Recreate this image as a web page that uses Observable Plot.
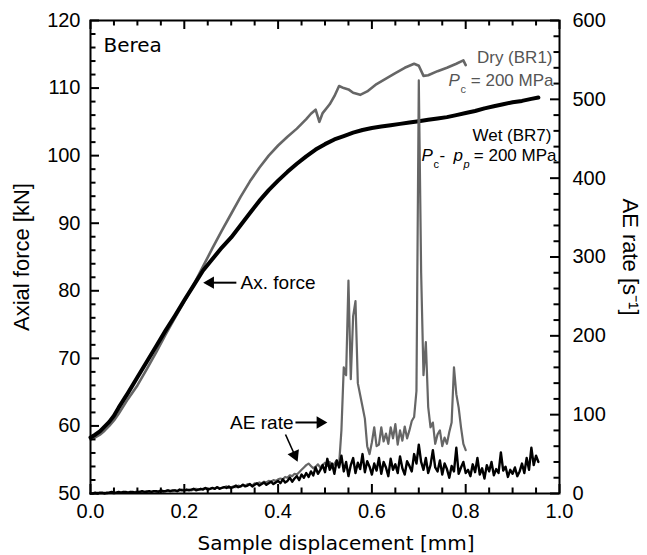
<!DOCTYPE html>
<html><head><meta charset="utf-8">
<script src="https://cdn.jsdelivr.net/npm/d3@7"></script>
<script src="https://cdn.jsdelivr.net/npm/@observablehq/plot@0.6"></script>
<style>body{margin:0;background:#fff}</style>
</head><body><div id="chart"></div>
<script>
// ---- data ----
const dryDisp  = [0,0.01,0.02,0.03,0.04,0.05,0.06,0.08,0.10,0.12,0.14,0.16,0.18,0.20,0.22,0.24,0.26,0.28,0.30,0.32,0.34,0.36,0.38,0.40,0.42,0.44,0.46,0.47,0.48,0.488,0.495,0.51,0.52,0.53,0.54,0.55,0.56,0.575,0.59,0.61,0.63,0.65,0.67,0.69,0.70,0.71,0.72,0.74,0.76,0.78,0.795,0.80];
const dryForce = [58.0,58.3,58.7,59.3,60.0,60.8,61.8,64.0,66.0,68.4,70.9,73.5,76.0,78.4,80.9,83.6,86.3,88.9,91.4,93.9,96.2,98.2,100.0,101.5,102.8,104.0,105.4,106.2,106.8,105.0,106.3,107.6,108.8,110.3,110.0,109.8,109.3,109.0,109.5,110.6,111.4,112.2,113.0,113.6,113.3,111.8,111.9,112.5,113.0,113.6,114.1,113.4];
const wetDisp  = [0,0.01,0.02,0.03,0.04,0.05,0.06,0.08,0.10,0.12,0.14,0.16,0.18,0.20,0.22,0.24,0.26,0.28,0.30,0.32,0.34,0.36,0.38,0.40,0.42,0.44,0.46,0.48,0.50,0.52,0.54,0.56,0.58,0.60,0.62,0.64,0.66,0.68,0.70,0.72,0.74,0.76,0.78,0.80,0.82,0.84,0.86,0.88,0.90,0.92,0.94,0.955];
const wetForce = [58.3,58.7,59.2,59.9,60.6,61.5,62.7,64.9,67.2,69.5,71.8,74.1,76.3,78.6,80.8,83.0,84.7,86.4,87.9,89.7,91.5,93.3,94.9,96.3,97.6,98.8,99.9,100.9,101.7,102.4,102.9,103.4,103.8,104.1,104.3,104.5,104.7,104.9,105.1,105.3,105.5,105.7,106.0,106.3,106.6,107.0,107.3,107.6,107.9,108.1,108.4,108.6];

// AE rate [1/s], sampled every 0.005 mm of displacement
const aeStep = 0.005;
const aeDry = [
 0,0,0,1,0,0,1,0,1,1,0,1,1,1,2,1,1,2,1,2,2,
 2,1,2,3,2,2,3,2,3,3,2,3,4,3,3,4,3,4,5,4,
 4,5,4,5,6,5,5,6,7,5,6,7,6,8,7,7,8,9,7,8,
 9,8,10,9,11,10,12,11,10,13,12,14,13,15,14,16,15,17,16,18,
 19,18,21,20,23,22,25,24,27,30,33,36,38,35,32,34,37,33,36,39,
 35,40,32,38,42,36,80,160,150,270,145,225,244,140,125,110,95,60,50,65,
 84,60,62,84,66,76,63,84,70,88,62,80,67,85,70,80,92,97,130,524,
 280,150,192,110,84,90,63,75,80,60,71,63,78,90,160,126,109,84,63,55];
const aeWet = [
 0,0,1,0,1,1,0,1,1,2,1,1,2,1,2,2,1,2,2,1,2,
 2,3,2,2,3,2,3,3,2,4,3,3,4,3,4,4,3,5,4,4,
 5,4,5,6,4,5,6,5,7,5,6,7,6,8,6,7,8,7,9,7,
 8,10,8,9,11,9,10,12,9,11,13,10,12,14,11,13,15,12,14,16,
 13,18,14,16,20,15,19,22,17,24,20,26,21,28,23,33,25,30,36,27,
 44,30,38,25,42,33,48,28,40,22,36,45,26,39,31,50,27,41,34,24,
 38,29,45,25,40,33,22,44,30,37,26,47,32,24,41,35,28,50,38,62,
 40,30,45,26,36,55,33,28,42,24,38,31,20,35,28,58,25,33,40,26,
 30,22,37,27,45,24,32,19,36,28,40,23,31,26,52,29,34,21,30,25,
 33,22,28,38,26,45,30,58,36,48,40];

const xTicks = [0, 0.2, 0.4, 0.6, 0.8, 1.0];
const xMinor = [0.05,0.1,0.15,0.25,0.3,0.35,0.45,0.5,0.55,0.65,0.7,0.75,0.85,0.9,0.95];
const forceTicks = [50, 60, 70, 80, 90, 100, 110, 120];
const forceMinor = [52,54,56,58,62,64,66,68,72,74,76,78,82,84,86,88,92,94,96,98,102,104,106,108,112,114,116,118];
const aeTicks = [0, 100, 200, 300, 400, 500, 600];
const aeMinor = [20,40,60,80,120,140,160,180,220,240,260,280,320,340,360,380,420,440,460,480,520,540,560,580];

// ---- build tables ----
const FMIN = 50, FMAX = 120, AEMAX = 600;
const aeToF = a => FMIN + a * (FMAX - FMIN) / AEMAX;
const dry = dryDisp.map((d, i) => ({d, f: dryForce[i]}));
const wet = wetDisp.map((d, i) => ({d, f: wetForce[i]}));
const aeD = aeDry.map((v, i) => ({d: i * aeStep, f: aeToF(v)}));
const aeW = aeWet.map((v, i) => ({d: i * aeStep, f: aeToF(v)}));

const W = 647, H = 555, mL = 90, mR = 88, mT = 20, mB = 62;
const fw = W - mL - mR, fh = H - mT - mB;
const GRAY = "#666", TGRAY = "#555";
const sans = "Liberation Sans, Arial, sans-serif";
const tahoma = "DejaVu Sans, Verdana, sans-serif";
const MAJ = 9, MIN = 5.5;

const t = (txt, x, y, o) => Plot.text([{txt, x, y}], {x: "x", y: "y", text: "txt", fontFamily: sans, ...o});

const chart = Plot.plot({
  width: W, height: H,
  marginLeft: mL, marginRight: mR, marginTop: mT, marginBottom: mB,
  x: {domain: [0, 1]},
  y: {domain: [FMIN, FMAX]},
  style: {fontFamily: sans, fontSize: "20px", background: "#fff", color: "#000"},
  marks: [
    // curves
    Plot.line(dry, {x: "d", y: "f", stroke: GRAY, strokeWidth: 2.6}),
    Plot.line(wet, {x: "d", y: "f", stroke: "#000", strokeWidth: 4}),
    Plot.line(aeD, {x: "d", y: "f", stroke: GRAY, strokeWidth: 2.2, strokeLinejoin: "round"}),
    Plot.line(aeW, {x: "d", y: "f", stroke: "#000", strokeWidth: 2.4, strokeLinejoin: "round"}),
    // inward ticks
    Plot.ruleX(xTicks, {insetTop: fh - MAJ, strokeWidth: 2}),
    Plot.ruleX(xMinor, {insetTop: fh - MIN, strokeWidth: 2}),
    Plot.ruleX(xTicks, {insetBottom: fh - MAJ, strokeWidth: 2}),
    Plot.ruleX(xMinor, {insetBottom: fh - MIN, strokeWidth: 2}),
    Plot.ruleY(forceTicks, {insetRight: fw - MAJ, strokeWidth: 2}),
    Plot.ruleY(forceMinor, {insetRight: fw - MIN, strokeWidth: 2}),
    Plot.ruleY(aeTicks.map(aeToF), {insetLeft: fw - MAJ, strokeWidth: 2}),
    Plot.ruleY(aeMinor.map(aeToF), {insetLeft: fw - MIN, strokeWidth: 2}),
    Plot.frame({strokeWidth: 2}),
    // axes labels
    Plot.axisX({ticks: xTicks, tickSize: 0, tickPadding: 10, tickFormat: d3.format(".1f"), label: null, fontSize: 20}),
    Plot.axisY({anchor: "left", ticks: forceTicks, tickSize: 0, tickPadding: 10, label: null, fontSize: 20}),
    Plot.axisY({anchor: "right", ticks: aeTicks.map(aeToF), tickSize: 0, tickPadding: 13, label: null, fontSize: 20,
                tickFormat: v => String(Math.round((v - FMIN) * AEMAX / (FMAX - FMIN)))}),
    // axis titles
    Plot.text(["Axial force [kN]"], {frameAnchor: "left", dx: -69, rotate: -90, textAnchor: "middle", fontSize: 22, fontFamily: sans}),
    Plot.text(["AE rate [s\u207B\u00B9]"], {frameAnchor: "right", dx: 71, rotate: 90, textAnchor: "middle", fontSize: 22, fontFamily: sans}),
    Plot.text(["Sample displacement [mm]"], {frameAnchor: "bottom", dx: 11, dy: 56, lineAnchor: "bottom", textAnchor: "middle", fontSize: 20, fontFamily: tahoma}),
    // annotations
    t("Berea", 0, FMAX, {dx: 13, dy: 17, textAnchor: "start", lineAnchor: "top", fontSize: 20, fontFamily: tahoma}),
    t("Dry (BR1)", 1, 113.64, {dx: -7, textAnchor: "end", lineAnchor: "bottom", fontSize: 17, fill: TGRAY}),
    t("P", 1, 110.38, {dx: -111, textAnchor: "start", lineAnchor: "bottom", fontSize: 17, fontStyle: "italic", fill: TGRAY}),
    t("c", 1, 110.38, {dx: -99, dy: 7, textAnchor: "start", lineAnchor: "bottom", fontSize: 11, fill: TGRAY}),
    t("= 200 MPa", 1, 110.38, {dx: -6, textAnchor: "end", lineAnchor: "bottom", fontSize: 17, fill: TGRAY}),
    t("Wet (BR7)", 1, 102.24, {dx: -8, textAnchor: "end", lineAnchor: "bottom", fontSize: 17}),
    t("P", 1, 99.15, {dx: -138, textAnchor: "start", lineAnchor: "bottom", fontSize: 17, fontStyle: "italic"}),
    t("c", 1, 99.15, {dx: -126, dy: 7, textAnchor: "start", lineAnchor: "bottom", fontSize: 11}),
    t("-", 1, 99.15, {dx: -120, textAnchor: "start", lineAnchor: "bottom", fontSize: 17}),
    t("p", 1, 99.15, {dx: -106, textAnchor: "start", lineAnchor: "bottom", fontSize: 17, fontStyle: "italic"}),
    t("p", 1, 99.15, {dx: -96, dy: 7, textAnchor: "start", lineAnchor: "bottom", fontSize: 11, fontStyle: "italic"}),
    t("= 200 MPa", 1, 99.15, {dx: -3, textAnchor: "end", lineAnchor: "bottom", fontSize: 17}),
    // arrows
    t("Ax. force", 0.320, 81.2, {textAnchor: "start", fontSize: 19}),
    Plot.link([{x1: 0.311, y1: 81.2, x2: 0.2525, y2: 81.2}], {x1: "x1", y1: "y1", x2: "x2", y2: "y2", strokeWidth: 2}),
    Plot.dot([{x: 0.2555, y: 81.2}], {x: "x", y: "y", symbol: "triangle", r: 4.6, rotate: 270, fill: "#000", stroke: "none"}),
    t("AE rate", 0.4328, 60.51, {textAnchor: "end", fontSize: 19}),
    Plot.link([{x1: 0.437, y1: 60.51, x2: 0.493, y2: 60.51}], {x1: "x1", y1: "y1", x2: "x2", y2: "y2", strokeWidth: 2}),
    Plot.dot([{x: 0.4898, y: 60.51}], {x: "x", y: "y", symbol: "triangle", r: 4.6, rotate: 90, fill: "#000", stroke: "none"}),
    Plot.link([{x1: 0.4158, y1: 58.73, x2: 0.4335, y2: 56.0}], {x1: "x1", y1: "y1", x2: "x2", y2: "y2", strokeWidth: 1.6}),
    Plot.dot([{x: 0.4354, y: 55.68}], {x: "x", y: "y", symbol: "triangle", r: 4.6, rotate: 156, fill: "#000", stroke: "none"})
  ]
});
document.getElementById("chart").appendChild(chart);
</script>
</body></html>
